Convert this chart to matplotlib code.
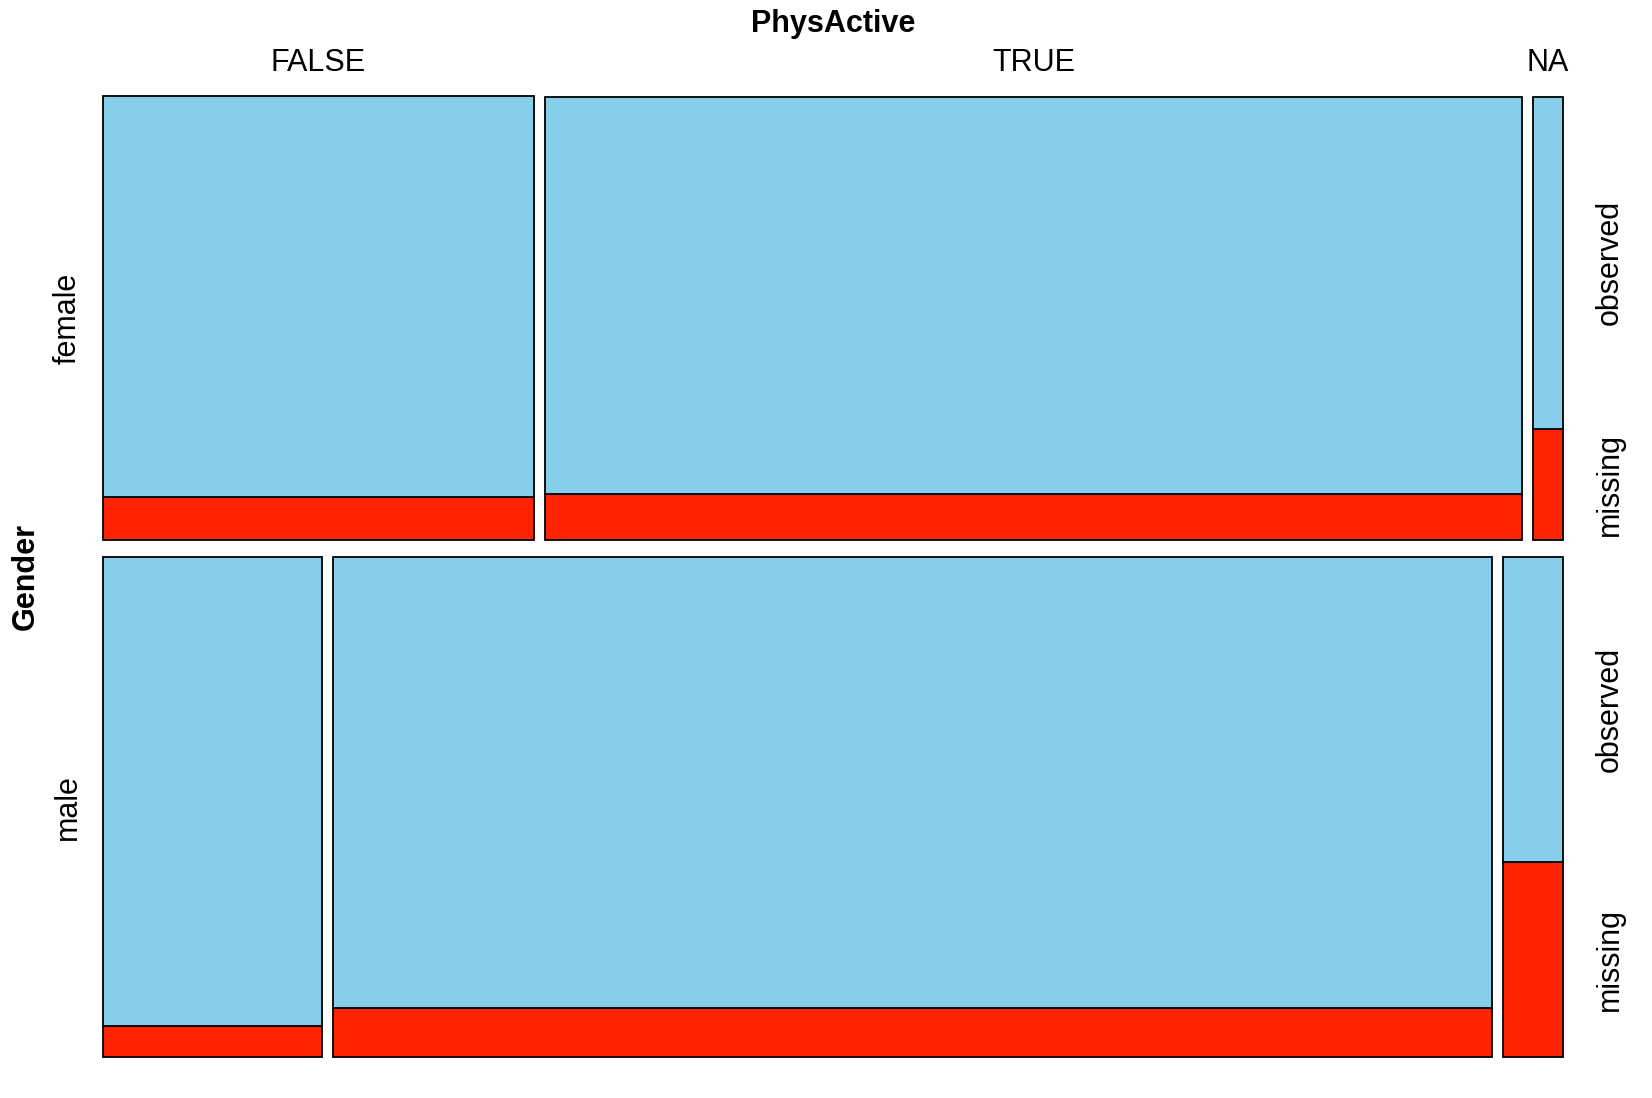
import matplotlib.pyplot as plt
from matplotlib.patches import Rectangle

# mosaic of missingness: Gender x PhysActive, split observed / missing
gender = ["female", "male"]
gender_share = [0.47, 0.53]
phys = ["FALSE", "TRUE", "NA"]
female_phys = [0.2996, 0.6795, 0.0209]
male_phys = [0.1523, 0.8060, 0.0417]
female_missing = [0.097, 0.104, 0.250]
male_missing = [0.061, 0.0975, 0.389]

phys_shares = [female_phys, male_phys]
missing_shares = [female_missing, male_missing]

col_obs = "#87CEEB"
col_miss = "#FF2400"

plt.rcParams['font.family'] = ['Liberation Sans', 'DejaVu Sans']

W, H = 1652, 1098
fig = plt.figure(figsize=(W / 100, H / 100), dpi=100)
ax = fig.add_axes([103 / W, 1 - 1056.7 / H, 1460 / W, 960.2 / H])
ax.set_xlim(0, 1)
ax.set_ylim(0, 1)
ax.axis("off")

xgap = 11 / 1460
ygap = 17 / 960.2
xspan = 1 - xgap * (len(phys) - 1)
yspan = 1 - ygap * (len(gender) - 1)

fs = 22
y_top = 1.0
for i, g in enumerate(gender):
    h = gender_share[i] * yspan
    y0 = y_top - h
    x0 = 0.0
    for j, p in enumerate(phys):
        w = phys_shares[i][j] * xspan
        m = missing_shares[i][j] * h
        ax.add_patch(Rectangle((x0, y0), w, m, facecolor=col_miss,
                               edgecolor="black", lw=1.3, clip_on=False))
        ax.add_patch(Rectangle((x0, y0 + m), w, h - m, facecolor=col_obs,
                               edgecolor="black", lw=1.3, clip_on=False))
        if i == 0:
            ax.text(x0 + w / 2, 1.0 + 0.027, p, ha="center", va="baseline",
                    fontsize=fs, clip_on=False)
        x0 += w + xgap
    # labels for observed/missing follow the last column
    m_last = missing_shares[i][-1] * h
    ax.text(1.0 + 0.032, y0 + m_last / 2, "missing", rotation=90,
            ha="center", va="center", fontsize=fs)
    ax.text(1.0 + 0.032, y0 + m_last + (h - m_last) / 2, "observed",
            rotation=90, ha="center", va="center", fontsize=fs)
    ax.text(-0.0243, y0 + h / 2, g, rotation=90, ha="center", va="center",
            fontsize=fs)
    y_top = y0 - ygap

fig.text(0.5 * (103 + 1563) / W, 1 - 32.3 / H, "PhysActive", ha="center",
         va="baseline", fontsize=fs, fontweight="bold")
fig.text(26 / W, 1 - 577 / H, "Gender", rotation=90, ha="center",
         va="center", fontsize=fs, fontweight="bold")

fig.savefig("out.png", dpi=100)
